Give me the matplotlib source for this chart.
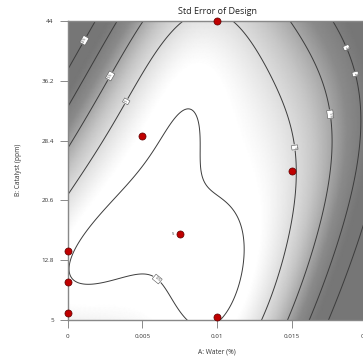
import numpy as np
import matplotlib.pyplot as plt
from matplotlib.colors import LinearSegmentedColormap

plt.rcParams['font.family'] = ['Open Sans', 'DejaVu Sans']

# design runs
run_water = [0.01, 0.005, 0.015, 0.0075, 0.0, 0.0, 0.0, 0.01]
run_catalyst = [44.0, 29.0, 24.5, 16.2, 14.0, 9.94, 6.0, 5.46]
run_reps = [1, 2, 1, 5, 2, 1, 1, 5]

# contour levels and their labels
levels = [0.484, 1.047, 1.61, 2.173, 2.736]
level_text = ['0.5', '1', '1.5', '2', '2.5']
label_pos = [(0.00571, 9.72), (0.00423, 33.15), (0.01486, 27.42), (0.0025, 37.19),
             (0.01687, 31.63), (0.00143, 41.1), (0.01816, 36.54), (0.01916, 40.93)]

xticks = [0, 0.005, 0.01, 0.015, 0.02]
xtick_labels = ['0', '0.005', '0.01', '0.015', '0.02']
yticks = [5, 12.8, 20.6, 28.4, 36.2, 44]
ytick_labels = ['5', '12.8', '20.6', '28.4', '36.2', '44']


def model_terms(w, c):
    a = (np.asarray(w) - 0.01) / 0.01
    b = (np.asarray(c) - 24.5) / 19.5
    return np.stack([np.ones_like(a), a, b, a * b, a * a, b * b], axis=-1)


# standard error of design for a quadratic model
X = np.repeat(model_terms(np.array(run_water), np.array(run_catalyst)), run_reps, axis=0)
XtXi = np.linalg.inv(X.T @ X)
gx, gy = np.meshgrid(np.linspace(0, 0.02, 240), np.linspace(5, 44, 240))
G = model_terms(gx, gy)
se = np.sqrt(np.einsum('...j,jk,...k->...', G, XtXi, G))

fig = plt.figure(figsize=(3.63, 3.63), dpi=100)
ax = fig.add_axes([0.1865, 0.1176, 0.8237, 0.8253])

cmap = LinearSegmentedColormap.from_list(
    'se', [(0, 'white'), (0.12, 'white'), (0.45, '#c8c8c8'), (0.75, '#8a8a8a'), (1, '#767676')])
ax.pcolormesh(gx, gy, se, cmap=cmap, shading='gouraud', vmin=0.4, vmax=2.4, rasterized=True)
cs = ax.contour(gx, gy, se, levels=levels, colors='#3c3c3c', linewidths=0.7)
txts = ax.clabel(cs, fmt=dict(zip(cs.levels, level_text)), fontsize=3,
                 manual=label_pos, inline=True, inline_spacing=2)
for t in txts:
    t.set_bbox(dict(boxstyle='square,pad=0.25', fc='white', ec='#555555', lw=0.4))

ax.scatter(run_water, run_catalyst, s=26, color='#c00000', edgecolors='#5a0000',
           linewidths=0.5, zorder=5, clip_on=False)
ax.text(0.0071, 16.3, '5', fontsize=3, ha='right', va='center', color='#333333')

ax.set_xlim(0, 0.02)
ax.set_ylim(5, 44)
ax.set_xticks(xticks, xtick_labels)
ax.set_yticks(yticks, ytick_labels)
ax.tick_params(length=6, width=0.6, color='#777777', labelsize=4.5, pad=4, labelcolor='#333333')
ax.spines['right'].set_visible(False)
for s in ['left', 'bottom', 'top']:
    ax.spines[s].set_color('#888888')
    ax.spines[s].set_linewidth(1.0)

fig.text(0.598, 0.967, 'Std Error of Design', fontsize=6.5, ha='center', va='center', color='#222222')
fig.text(0.598, 0.030, 'A: Water (%)', fontsize=4.8, ha='center', va='center', color='#333333')
fig.text(0.0496, 0.532, 'B: Catalyst (ppm)', fontsize=4.8, ha='center', va='center',
         rotation=90, color='#333333')

fig.savefig("out.png", dpi=100)
